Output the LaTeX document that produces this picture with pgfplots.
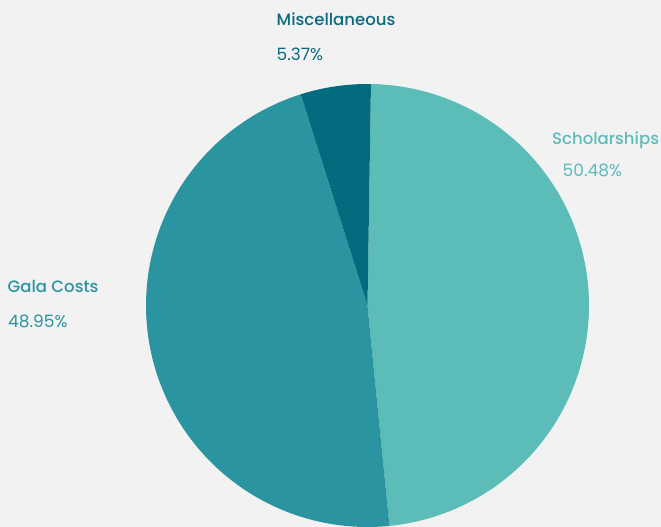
\documentclass[border=0pt]{standalone}
\usepackage{pgfplots}
\pgfplotsset{compat=1.18}
\usepackage{fontspec}
\setmainfont{Poppins}[BoldFont={Poppins Medium}]
\definecolor{bgc}{HTML}{F2F2F2}
\definecolor{cSch}{HTML}{5BBCB8}
\definecolor{cGala}{HTML}{2A95A0}
\definecolor{cMisc}{HTML}{036B7E}
\definecolor{tMisc}{HTML}{0D6A7E}
% data (percent labels as shown)
\def\vS{50.48}
\def\vG{48.95}
\def\vM{5.37}
\pgfmathsetmacro\tot{\vS+\vG+\vM}
\pgfmathsetmacro\aA{89.1}
\pgfmathsetmacro\aB{\aA-\vS/\tot*360}
\pgfmathsetmacro\aC{\aB-\vG/\tot*360}
\pgfmathsetmacro\aD{\aC-\vM/\tot*360}
\def\cx{367.5}
\def\cy{221.5}
\def\rr{221.5}
\begin{document}
\begin{tikzpicture}
\begin{axis}[
  scale only axis, width=661pt, height=527pt,
  xmin=0, xmax=661, ymin=0, ymax=527,
  hide axis, clip=true,
]
\fill[bgc] (axis cs:0,0) rectangle (axis cs:661,527);
\addplot[fill=cSch, draw=none, domain=\aB:\aA, samples=150, variable=\t]
  ({\cx+\rr*cos(t)},{\cy+\rr*sin(t)}) -- (axis cs:\cx,\cy) -- cycle;
\addplot[fill=cGala, draw=none, domain=\aC:\aB, samples=150, variable=\t]
  ({\cx+\rr*cos(t)},{\cy+\rr*sin(t)}) -- (axis cs:\cx,\cy) -- cycle;
\addplot[fill=cMisc, draw=none, domain=\aD:\aC, samples=40, variable=\t]
  ({\cx+\rr*cos(t)},{\cy+\rr*sin(t)}) -- (axis cs:\cx,\cy) -- cycle;
\node[anchor=base west, inner sep=0, text=tMisc, font=\fontsize{16.5}{19}\selectfont\bfseries] at (axis cs:276.5,501) {Miscellaneous};
\node[anchor=base west, inner sep=0, text=tMisc, font=\fontsize{17}{19}\selectfont] at (axis cs:276.5,466.5) {5.37\%};
\node[anchor=base west, inner sep=0, text=cSch, font=\fontsize{16.5}{19}\selectfont\bfseries] at (axis cs:552,382) {Scholarships};
\node[anchor=base west, inner sep=0, text=cSch, font=\fontsize{17}{19}\selectfont] at (axis cs:562.5,350.5) {50.48\%};
\node[anchor=base west, inner sep=0, text=cGala, font=\fontsize{16.5}{19}\selectfont\bfseries] at (axis cs:7.5,234.5) {Gala Costs};
\node[anchor=base west, inner sep=0, text=cGala, font=\fontsize{17}{19}\selectfont] at (axis cs:8,199.5) {48.95\%};
\end{axis}
\end{tikzpicture}
\end{document}
